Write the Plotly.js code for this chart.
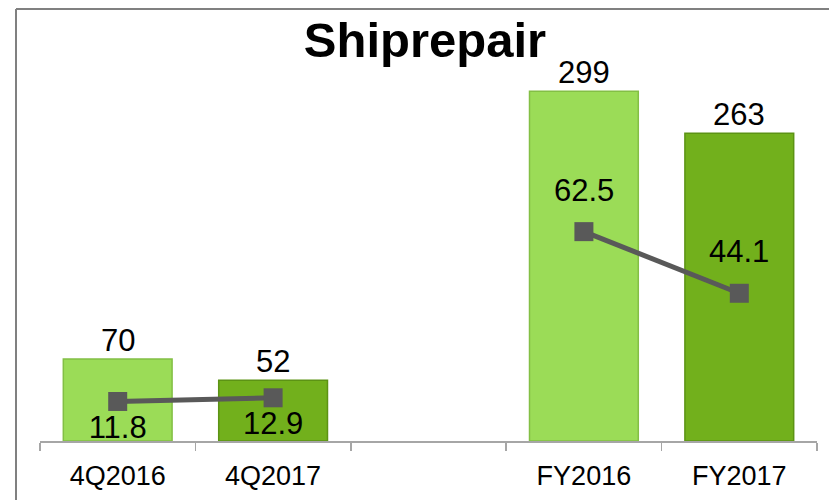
<!DOCTYPE html>
<html>
<head>
<meta charset="utf-8">
<script src="https://cdn.plot.ly/plotly-3.0.1.min.js"></script>
<style>
  html, body { margin: 0; padding: 0; background: #ffffff; }
  #chart { width: 829px; height: 500px; }
</style>
</head>
<body>
<div id="chart"></div>
<script>
// ---- data ----
var categories = ['4Q2016', '4Q2017', ' ', 'FY2016', 'FY2017'];
var revenue = [70, 52, null, 299, 263];
var revenueLabels = ['70', '52', '', '299', '263'];
var margin = [11.8, 12.9, null, 62.5, 44.1];
var marginLabels = ['11.8', '12.9', '', '62.5', '44.1'];
var marginLabelAbove = [false, false, false, true, true];
var barColors = ['#9BDC57', '#72B01C', '#9BDC57', '#9BDC57', '#72B01C'];
var barEdges = ['#83BF45', '#5C9314', '#83BF45', '#83BF45', '#5C9314'];

var FONT = 'Liberation Sans, Arial, sans-serif';

var plotTop = 60, plotBottom = 441, plotLeft = 40, plotRight = 817;
var H = plotBottom - plotTop, W = plotRight - plotLeft;
function px(x) { return (x - plotLeft) / W; }
function py(y) { return (plotBottom - y) / H; }

// labels below the markers go on the trace, labels above become annotations
var traceText = marginLabels.map(function (t, i) { return marginLabelAbove[i] ? '' : t; });
var annotations = [];
marginLabels.forEach(function (t, i) {
  if (marginLabelAbove[i] && margin[i] !== null) {
    annotations.push({
      x: categories[i], y: margin[i], xref: 'x', yref: 'y2',
      text: t, showarrow: false, xanchor: 'center', yanchor: 'bottom',
      yshift: 22,
      font: { family: FONT, size: 31, color: '#000000' }
    });
  }
});
revenueLabels.forEach(function (t, i) {
  if (revenue[i] !== null) {
    annotations.push({
      x: categories[i], y: revenue[i], xref: 'x', yref: 'y',
      text: t, showarrow: false, xanchor: 'center', yanchor: 'bottom',
      yshift: -1,
      font: { family: FONT, size: 31, color: '#000000' }
    });
  }
});

var traces = [
  {
    type: 'bar',
    x: categories,
    y: revenue,
    width: 0.70,
    marker: { color: barColors, line: { color: barEdges, width: 1.5 } },
    hoverinfo: 'skip',
    showlegend: false
  },
  {
    type: 'scatter',
    mode: 'lines+markers+text',
    x: categories,
    y: margin,
    yaxis: 'y2',
    connectgaps: false,
    line: { color: '#595959', width: 5 },
    marker: { symbol: 'square', size: 19, color: '#595959' },
    text: traceText,
    textposition: 'bottom center',
    textfont: { family: FONT, size: 31, color: '#000000' },
    cliponaxis: false,
    hoverinfo: 'skip',
    showlegend: false
  }
];

var layout = {
  width: 829,
  height: 500,
  margin: { l: plotLeft, r: 829 - plotRight, t: plotTop, b: 500 - plotBottom, pad: 0 },
  paper_bgcolor: '#ffffff',
  plot_bgcolor: 'rgba(0,0,0,0)',
  font: { family: FONT, color: '#000000' },
  title: {
    text: '<b>Shiprepair</b>',
    font: { family: FONT, size: 49, color: '#000000' },
    x: 425 / 829, xanchor: 'center', xref: 'container',
    y: 1 - 40 / 500, yanchor: 'middle', yref: 'container'
  },
  bargap: 0.3,
  xaxis: {
    type: 'category',
    categoryorder: 'array',
    categoryarray: categories,
    range: [-0.5, 4.5],
    showline: true,
    linecolor: '#A6A6A6',
    linewidth: 1.5,
    ticks: 'outside',
    ticklen: 8,
    tickwidth: 1.5,
    tickcolor: '#A6A6A6',
    tickson: 'boundaries',
    ticklabelstandoff: 10,
    showgrid: false,
    zeroline: false,
    tickfont: { family: FONT, size: 27, color: '#000000' },
    fixedrange: true
  },
  yaxis: {
    range: [0, H / 1.17],
    visible: false,
    showgrid: false,
    zeroline: false,
    fixedrange: true
  },
  yaxis2: {
    range: [0, H / 3.35],
    overlaying: 'y',
    side: 'right',
    visible: false,
    showgrid: false,
    zeroline: false,
    fixedrange: true
  },
  annotations: annotations,
  shapes: [
    { type: 'line', xref: 'paper', yref: 'paper', x0: px(16), x1: px(829), y0: py(9), y1: py(9),
      line: { color: '#808080', width: 2 } },
    { type: 'line', xref: 'paper', yref: 'paper', x0: px(16), x1: px(16), y0: py(9), y1: py(500),
      line: { color: '#808080', width: 2 } }
  ]
};

Plotly.newPlot('chart', traces, layout, { displayModeBar: false, staticPlot: true });
</script>
</body>
</html>
